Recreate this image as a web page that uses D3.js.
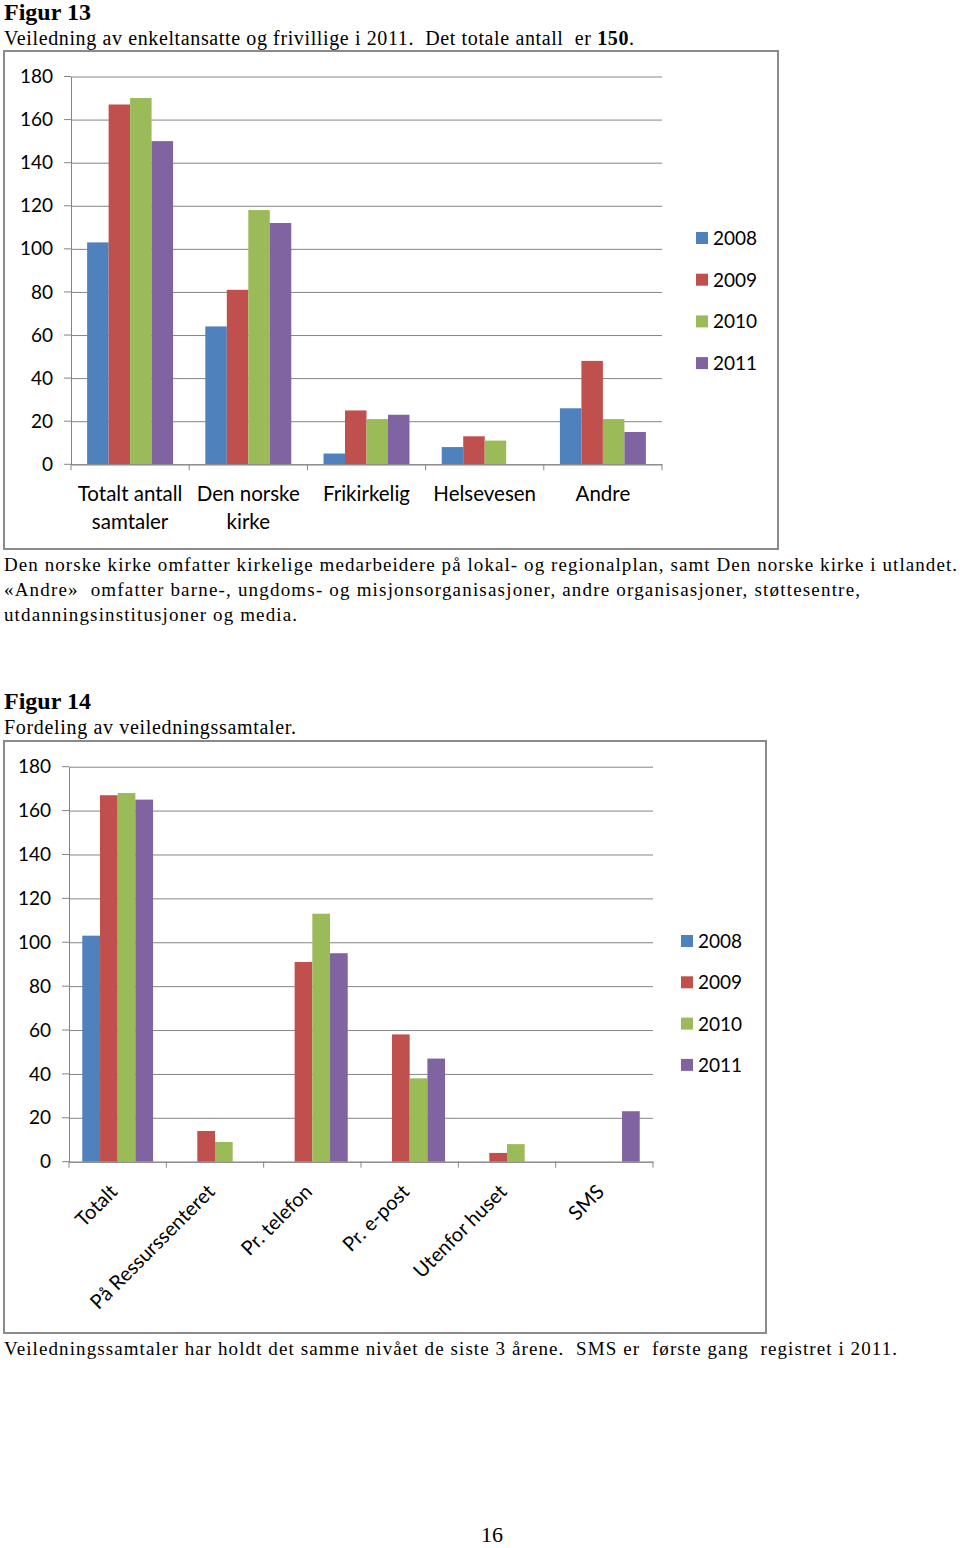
<!DOCTYPE html>
<html><head><meta charset="utf-8">
<script src="https://cdn.jsdelivr.net/npm/d3@7"></script>
<style>body{margin:0;background:#fff}svg{display:block}text{white-space:pre}</style>
</head><body>
<script>
// ---- Data ----
const years = ["2008", "2009", "2010", "2011"];
const colors = ["#4F81BD", "#C0504D", "#9BBB59", "#8064A2"];
const yTicks = [0, 20, 40, 60, 80, 100, 120, 140, 160, 180];

// Figur 13
const categories1 = ["Totalt antall samtaler", "Den norske kirke", "Frikirkelig", "Helsevesen", "Andre"];
const categoryLines1 = [["Totalt antall", "samtaler"], ["Den norske", "kirke"], ["Frikirkelig"], ["Helsevesen"], ["Andre"]];
const fig13_2008 = [103, 64, 5, 8, 26];
const fig13_2009 = [167, 81, 25, 13, 48];
const fig13_2010 = [170, 118, 21, 11, 21];
const fig13_2011 = [150, 112, 23, 0, 15];

// Figur 14
const categories2 = ["Totalt", "På Ressurssenteret", "Pr. telefon", "Pr. e-post", "Utenfor huset", "SMS"];
const fig14_2008 = [103, 0, 0, 0, 0, 0];
const fig14_2009 = [167, 14, 91, 58, 4, 0];
const fig14_2010 = [168, 9, 113, 38, 8, 0];
const fig14_2011 = [165, 0, 95, 47, 0, 23];

const W = 960, H = 1548;
const svg = d3.select("body").append("svg").attr("width", W).attr("height", H);
const serif = "'Liberation Serif','Times New Roman',serif";
const sans = "Lato,'Open Sans',sans-serif";
const gridCol = "#858585";

function text(x, y, str, size, opts = {}) {
  const t = svg.append("text").attr("x", x).attr("y", y)
    .attr("font-family", opts.family || serif).attr("font-size", size)
    .attr("fill", "#000");
  if (opts.weight) t.attr("font-weight", opts.weight);
  if (opts.anchor) t.attr("text-anchor", opts.anchor);
  if (opts.len) t.attr("textLength", opts.len).attr("lengthAdjust", "spacing");
  t.text(str);
  return t;
}

// ---- Texts ----
text(4, 20, "Figur 13", 24, {weight: "bold"});
const sub = text(4, 45, "", 20, {len: 630});
sub.append("tspan").text("Veiledning av enkeltansatte og frivillige i 2011.  Det totale antall  er ");
sub.append("tspan").attr("font-weight", "bold").text("150");
sub.append("tspan").text(".");
text(4, 571, "Den norske kirke omfatter kirkelige medarbeidere på lokal- og regionalplan, samt Den norske kirke i utlandet.", 19, {len: 953});
text(4, 596, "«Andre»  omfatter barne-, ungdoms- og misjonsorganisasjoner, andre organisasjoner, støttesentre,", 19, {len: 856});
text(4, 621, "utdanningsinstitusjoner og media.", 19, {len: 293});
text(4, 709, "Figur 14", 24, {weight: "bold"});
text(4, 734, "Fordeling av veiledningssamtaler.", 20, {len: 292});
text(4, 1355, "Veiledningssamtaler har holdt det samme nivået de siste 3 årene.  SMS er  første gang  registret i 2011.", 19, {len: 893});
text(492, 1542, "16", 22, {anchor: "middle"});

// ---- Chart builder ----
function chart(cfg) {
  const g = svg.append("g");
  g.append("rect").attr("x", cfg.frame[0]).attr("y", cfg.frame[1])
    .attr("width", cfg.frame[2]).attr("height", cfg.frame[3])
    .attr("fill", "#fff").attr("stroke", "#8a8a8a").attr("stroke-width", 2);

  const y = d3.scaleLinear().domain([0, 180]).range([cfg.y0, cfg.y1]);
  const x = d3.scaleBand().domain(cfg.categories).range([cfg.x0, cfg.x1]).padding(0);
  const xi = d3.scaleBand().domain(years).range([0, x.bandwidth()]).paddingInner(0).paddingOuter(0.75);

  // gridlines
  const yAxis = d3.axisLeft(y).tickValues(yTicks).tickSize(-(cfg.x1 - cfg.x0)).tickSizeOuter(0);
  const ga = g.append("g").attr("transform", `translate(${cfg.x0},0)`).call(yAxis);
  ga.select(".domain").attr("stroke", gridCol);
  ga.selectAll(".tick line").attr("stroke", gridCol);
  ga.selectAll(".tick text").attr("font-family", sans).attr("font-size", 19).attr("fill", "#000").attr("x", -18);
  // left tick marks
  g.selectAll(".ytk").data(yTicks).join("line")
    .attr("x1", cfg.x0 - 7).attr("x2", cfg.x0).attr("y1", d => y(d)).attr("y2", d => y(d))
    .attr("stroke", gridCol);

  // bars
  const series = [cfg.s2008, cfg.s2009, cfg.s2010, cfg.s2011];
  series.forEach((vals, si) => {
    g.selectAll(".b" + si).data(cfg.categories).join("rect")
      .attr("x", d => x(d) + xi(years[si]))
      .attr("y", (d, i) => y(vals[i]))
      .attr("width", xi.bandwidth())
      .attr("height", (d, i) => y(0) - y(vals[i]))
      .attr("fill", colors[si]);
  });

  // x axis
  const xAxis = d3.axisBottom(x).tickSize(0).tickFormat("");
  const gx = g.append("g").attr("transform", `translate(0,${cfg.y0})`).call(xAxis);
  gx.select(".domain").attr("stroke", gridCol);
  const edges = cfg.categories.map(c => x(c)).concat([cfg.x1]);
  g.selectAll(".xtk").data(edges).join("line")
    .attr("x1", d => d).attr("x2", d => d).attr("y1", cfg.y0).attr("y2", cfg.y0 + 6)
    .attr("stroke", gridCol);

  // legend
  years.forEach((yr, i) => {
    const ly = cfg.legY + i * cfg.legStep;
    g.append("rect").attr("x", cfg.legX).attr("y", ly - 6).attr("width", 12).attr("height", 12).attr("fill", colors[i]);
    g.append("text").attr("x", cfg.legX + 17).attr("y", ly + 7).attr("font-family", sans)
      .attr("font-size", 19).text(yr);
  });
  return {g, x};
}

// Figur 13
const c1 = chart({frame: [4, 51, 774, 498], categories: categories1, x0: 71, x1: 662, y0: 464.3, y1: 76.5,
  s2008: fig13_2008, s2009: fig13_2009, s2010: fig13_2010, s2011: fig13_2011,
  legX: 696, legY: 238, legStep: 41.7});
categories1.forEach((c, i) => {
  categoryLines1[i].forEach((ln, j) => {
    c1.g.append("text").attr("x", c1.x(c) + c1.x.bandwidth() / 2).attr("y", 501 + j * 28)
      .attr("text-anchor", "middle").attr("font-family", sans).attr("font-size", 20.5).text(ln);
  });
});

// Figur 14
const c2 = chart({frame: [4, 741, 762, 592], categories: categories2, x0: 69, x1: 653, y0: 1161.7, y1: 766.7,
  s2008: fig14_2008, s2009: fig14_2009, s2010: fig14_2010, s2011: fig14_2011,
  legX: 681, legY: 941, legStep: 41.3});
categories2.forEach(c => {
  const cx = c2.x(c) + c2.x.bandwidth() / 2 + 1;
  const cy = 1193;
  c2.g.append("text").attr("transform", `translate(${cx},${cy}) rotate(-45)`)
    .attr("text-anchor", "end").attr("font-family", sans).attr("font-size", 20).text(c);
});
</script>
</body></html>
